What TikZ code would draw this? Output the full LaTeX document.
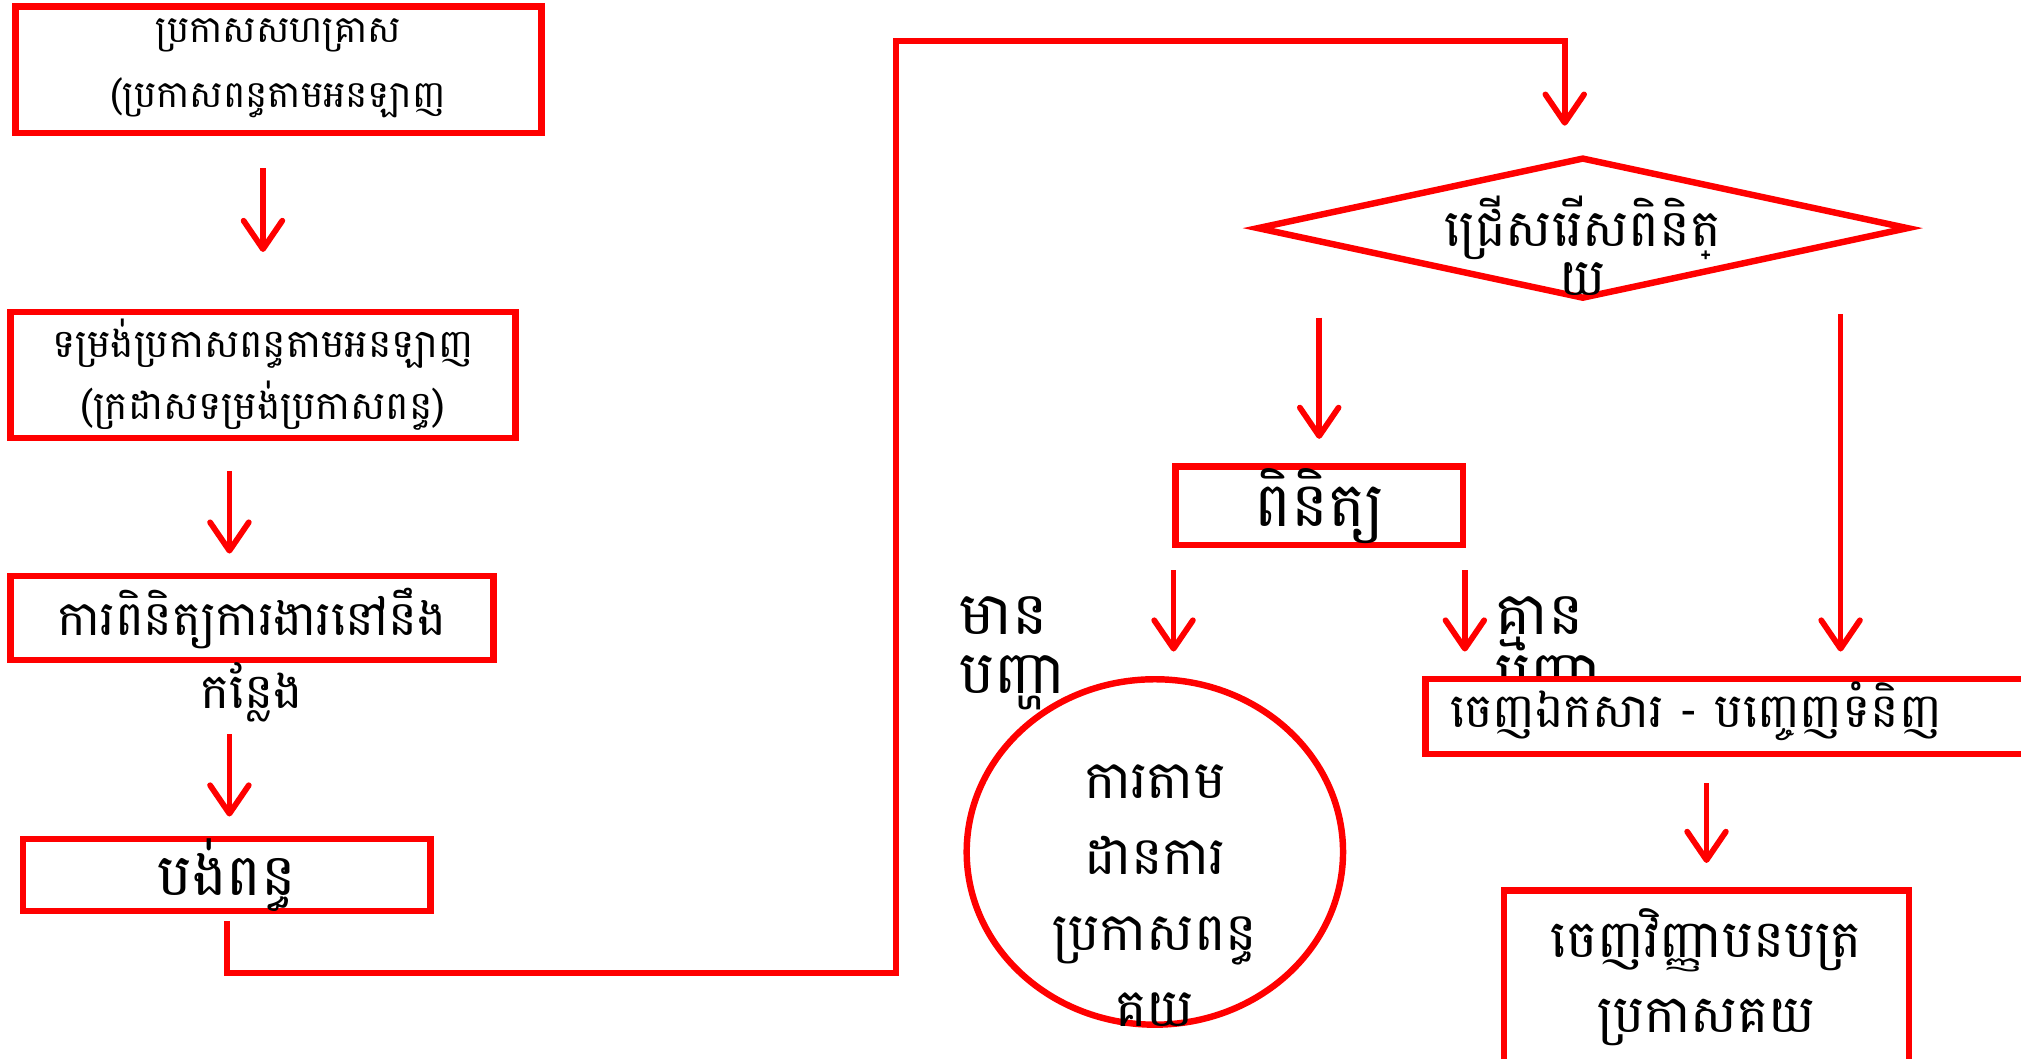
\documentclass[tikz,border=0pt]{standalone}
\usepackage{fontspec}
\newfontfamily\khmer[Script=Khmer]{Battambang}
\usetikzlibrary{arrows.meta,shapes.geometric,calc}
\newcommand{\khs}[2]{\khmer\fontsize{#1}{#2}\selectfont}
\begin{document}
\begin{tikzpicture}[x=1pt,y=-1pt,
  box/.style={draw=red, line width=5pt, fill=white, rectangle, inner sep=0pt},
  oval/.style={draw=red, line width=5pt, ellipse, inner sep=0pt},
  dia/.style={draw=red, line width=5pt, diamond, inner sep=0pt, aspect=4.6},
  arr/.style={draw=red, line width=4.5pt, -{Straight Barb[length=22pt,width=30pt,line width=4.5pt,round]}},
  txt/.style={text=black, inner sep=0pt, align=center},
]
\fill[white] (0,0) rectangle (1568,821);
\useasboundingbox (0,0) rectangle (1568,821);

% left column
\node[box, minimum width=408pt, minimum height=98pt] (b1) at (216,54) {};
\node[txt, font=\khs{29}{50}] (t1) at ([yshift=1pt]b1.center) {ប្រកាសសហគ្រាស\\(ប្រកាសពន្ធតាមអនឡាញ};
\node[box, minimum width=392pt, minimum height=98pt] (b2) at (204,291) {};
\node[txt, font=\khs{30.5}{48}] (t2) at (b2.center) {ទម្រង់ប្រកាសពន្ធតាមអនឡាញ\\(ក្រដាសទម្រង់ប្រកាសពន្ធ)};
\node[box, minimum width=375pt, minimum height=65pt] (b3) at (195.5,479.5) {};
\node[txt, font=\khs{37.5}{40}] (t3) at (b3.center) {ការពិនិត្យការងារនៅនឹង};
\node[txt, font=\khs{38}{40}] (t3b) at (195,537) {កន្លែង};
\node[box, minimum width=316pt, minimum height=56pt] (b4) at (176,679) {};
\node[txt, font=\khs{45}{40}] (t4) at (b4.center) {បង់ពន្ធ};

% right part
\node[dia, minimum width=506pt, minimum height=110pt] (d) at (1228,177) {};
\node[txt, font=\khs{40}{38}] (td) at (1228,191) {ជ្រើសរើសពិនិត្\\យ};
\node[box, minimum width=223pt, minimum height=61pt] (pin) at (1023.5,392.5) {};
\node[txt, font=\khs{48}{40}] (tpin) at (pin.center) {ពិនិត្យ};

\node[txt, font=\khs{46}{46}, align=left, anchor=west] (lyes) at (744,507) {មាន\\បញ្ហា};
\node[txt, font=\khs{46}{46}, align=left, anchor=west] (lno) at (1160,507) {គ្មាន\\បញ្ហា};

\node[oval, minimum width=292pt, minimum height=268pt] (ov) at (896,661) {};
\node[txt, font=\khs{41}{59}] (tov) at (896,695) {ការតាម\\ដានការ\\ប្រកាសពន្ធ\\គយ};

\node[box, minimum width=494pt, minimum height=58pt] (iss) at (1353,556) {};
\node[txt, font=\khs{37}{40}, anchor=west] (tiss) at (1125,552) {ចេញឯកសារ - បញ្ចេញទំនិញ};

\node[box, minimum width=314pt, minimum height=154pt] (cert) at (1324,768) {};
\node[txt, font=\khs{40.5}{58}] (tcert) at (1324,758) {ចេញវិញ្ញាបនបត្រ\\ប្រកាសគយ};

% helper coordinates
\coordinate (xl) at (178,0);
\coordinate (xr) at (1428,0);
\coordinate (turnA) at (695,755);
\coordinate (turnB) at (695,32);

% connectors
\draw[arr, shorten <=25pt, shorten >=44pt] (b2.north |- b1.south) -- (b2.north);
\draw[arr, shorten <=23pt, shorten >=15pt] (xl |- b2.south) -- (xl |- b3.north);
\draw[arr, shorten <=55pt, shorten >=15pt] (xl |- b3.south) -- (xl |- b4.north);
\draw[arr, shorten >=22pt] ([yshift=-5pt]b4.south) -- (b4.south |- turnA) -- (turnA) -- (turnB) -| ([xshift=-14pt]d.north);
\draw[arr, shorten <=12pt, shorten >=19pt] (pin.north |- d.south) -- (pin.north);
\draw[arr, shorten <=9pt, shorten >=19pt] (xr |- d.south) -- (xr |- iss.north);
\draw[arr, shorten <=17pt, shorten >=19pt] ([xshift=1pt]pin.south west) -- ([xshift=1pt]pin.south west |- ov.north);
\draw[arr, shorten <=17pt, shorten >=19pt] ([xshift=-1pt]pin.south east) -- ([xshift=-1pt]pin.south east |- iss.north);
\draw[arr, shorten <=20pt, shorten >=19pt] (cert.north |- iss.south) -- (cert.north);
\end{tikzpicture}
\end{document}
